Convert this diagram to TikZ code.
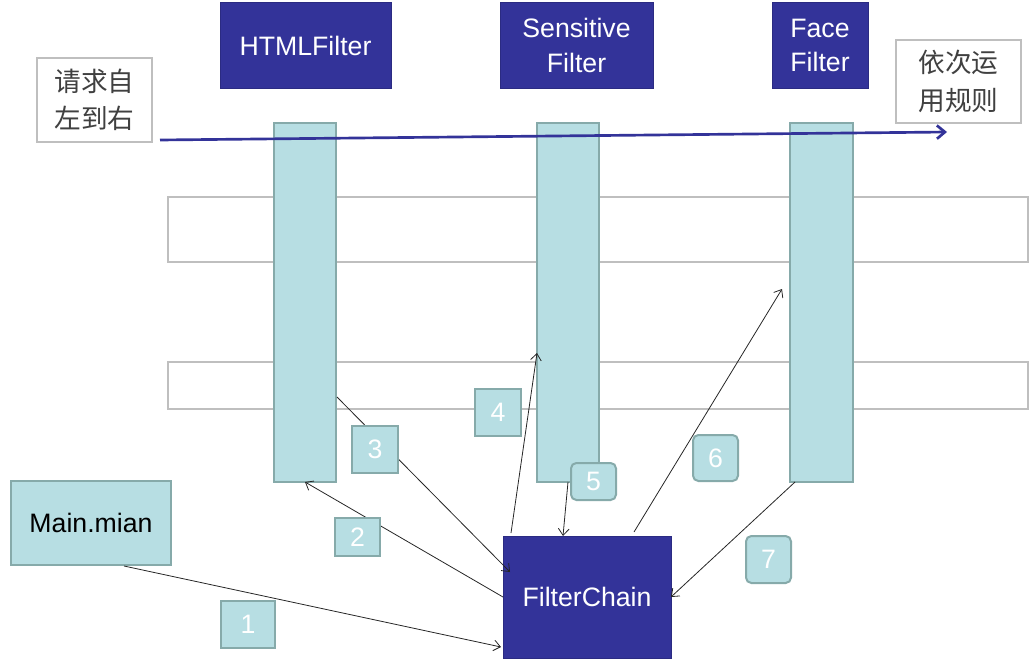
\documentclass[tikz,border=0pt]{standalone}
\usepackage{fontspec}
\setmainfont{Liberation Sans}
\newfontfamily\cjk{Noto Sans CJK SC}
\usetikzlibrary{fit,calc,arrows.meta}
\definecolor{dblue}{HTML}{333399}
\definecolor{lblue}{HTML}{B7DEE3}
\definecolor{lborder}{HTML}{86AAAA}
\definecolor{gborder}{HTML}{BFBFBF}
\definecolor{ctext}{HTML}{404040}
\begin{document}
\begin{tikzpicture}[x=0.75pt,y=-0.75pt,
  box/.style={inner sep=0pt, outer sep=0pt},
  darkbox/.style={box, fill=dblue, draw=dblue!85!black, line width=0.75pt, text=white, font=\fontsize{20}{26}\selectfont, align=center},
  bar/.style={box, fill=lblue, draw=lborder, line width=1.5pt},
  lane/.style={box, draw=gborder, line width=1.5pt, fill=white},
  note/.style={box, draw=gborder, line width=1.5pt, fill=white, text=ctext, font=\cjk\fontsize{20}{28}\selectfont, align=center},
  lightbox/.style={box, fill=lblue, draw=lborder, line width=1.5pt, text=black, font=\fontsize{20}{24}\selectfont},
  num/.style={box, fill=lblue, draw=lborder, line width=1.5pt, text=white, font=\fontsize{20}{24}\selectfont},
  numr/.style={num, rounded corners=4pt},
  link/.style={line width=0.6pt, draw=black!85, -{Straight Barb[length=5pt,width=8pt]}},
  flow/.style={line width=2pt, draw=dblue, -{Straight Barb[length=6pt,width=10pt]}},
]
\useasboundingbox (0,0) rectangle (1034,667);

% horizontal lanes
\node[lane, fit={(168,197) (1028,262)}] (lane1) {};
\node[lane, fit={(168,362) (1028,409)}] (lane2) {};

% filter headers
\node[darkbox, minimum width=128.25pt, minimum height=63.75pt] (html) at (305.5,45.5) {HTMLFilter};
\node[darkbox, minimum width=114.75pt, minimum height=63.75pt] (sens) at (576.5,45.5) {Sensitive\\Filter};
\node[darkbox, minimum width=72pt, minimum height=63.75pt] (face) at (820,45.5) {Face\\Filter};

% notes
\node[note, minimum width=86.25pt, minimum height=63pt] (left) at (94.5,100) {请求自\\左到右};
\node[note, minimum width=93.75pt, minimum height=62.25pt] (right) at (958.5,81.5) {依次运\\用规则};

% vertical bars
\node[bar, fit={(274,123) (336,482)}] (bar1) {};
\node[bar, fit={(537,123) (599,482)}] (bar2) {};
\node[bar, fit={(790,123) (853,482)}] (bar3) {};

% request flow arrow
\coordinate (fstart) at (160,140);
\coordinate (fend) at (947,132);
\draw[flow] (fstart) -- (fend);

% main and chain
\node[lightbox, minimum width=120pt, minimum height=63pt] (main) at (91,523) {Main.mian};
\node[darkbox, minimum width=126pt, minimum height=91.5pt] (fc) at (587,597) {FilterChain};

% connectors
\draw[link] ($(main.south west)+(113,1)$) -- ($(fc.south west)+(-2,-11)$);
\draw[link] (fc.west) -- (bar1.south);
\draw[link] ($(bar1.east)+(1,94.5)$) -- ($(fc.north west)+(7,36)$);
\draw[link] ($(fc.north west)+(8,-3)$) -- ($(bar2.west)+(0,50.5)$);
\draw[link] (bar2.south) -- ($(fc.north west)+(60,0)$);
\draw[link] ($(fc.north west)+(131,-4)$) -- ($(bar3.west)+(-8,-13.5)$);
\draw[link] ($(bar3.south west)+(5,0)$) -- (fc.east);

% step numbers
\node[num, minimum width=40.5pt, minimum height=35.25pt] (n1) at (248,624.5) {1};
\node[num, minimum width=33.75pt, minimum height=28.5pt] (n2) at (357.5,537) {2};
\node[num, minimum width=34.5pt, minimum height=35.25pt] (n3) at (375,449.5) {3};
\node[num, minimum width=34.5pt, minimum height=35.25pt] (n4) at (498,412.5) {4};
\node[numr, minimum width=33.75pt, minimum height=27.75pt] (n5) at (593.5,481.5) {5};
\node[numr, minimum width=33.75pt, minimum height=34.5pt] (n6) at (715.5,458) {6};
\node[numr, minimum width=33.75pt, minimum height=35.25pt] (n7) at (768.5,559.5) {7};
\end{tikzpicture}
\end{document}
